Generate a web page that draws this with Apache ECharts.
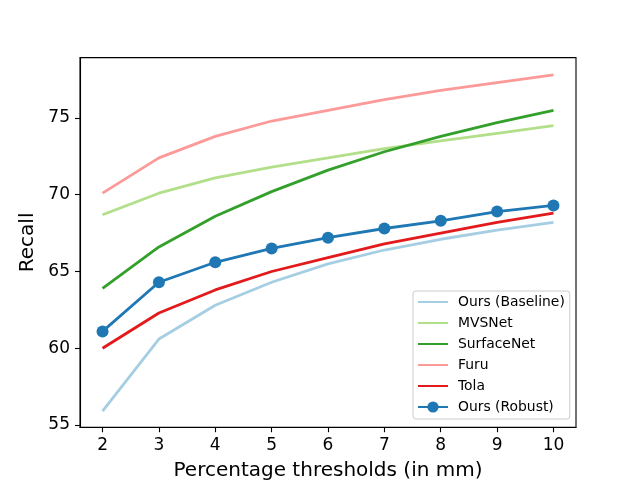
<!DOCTYPE html>
<html>
<head>
<meta charset="utf-8">
<script src="https://cdn.jsdelivr.net/npm/echarts@6/dist/echarts.min.js"></script>
<style>html,body{margin:0;padding:0;background:#fff;}#c{width:640px;height:480px;}</style>
</head>
<body>
<div id="c"></div>
<script>
var thresholds = [2, 3, 4, 5, 6, 7, 8, 9, 10];
var xTicks = [2, 3, 4, 5, 6, 7, 8, 9, 10];
var yTicks = [55, 60, 65, 70, 75];
var seriesNames = ['Ours (Baseline)', 'MVSNet', 'SurfaceNet', 'Furu', 'Tola', 'Ours (Robust)'];
var oursBaseline = [55.9, 60.6, 62.8, 64.3, 65.5, 66.4, 67.1, 67.7, 68.2];
var mvsnet       = [68.7, 70.1, 71.1, 71.8, 72.4, 73.0, 73.5, 74.0, 74.5];
var surfacenet   = [63.9, 66.6, 68.6, 70.2, 71.6, 72.8, 73.8, 74.7, 75.5];
var furu         = [70.1, 72.4, 73.8, 74.8, 75.5, 76.2, 76.8, 77.3, 77.8];
var tola         = [60.0, 62.3, 63.8, 65.0, 65.9, 66.8, 67.5, 68.2, 68.8];
var oursRobust   = [61.1, 64.3, 65.6, 66.5, 67.2, 67.8, 68.3, 68.9, 69.3];

var colors = ['#a6cee3', '#b2df8a', '#33a02c', '#fb9a99', '#e31a1c', '#1f78b4'];
var allValues = [oursBaseline, mvsnet, surfacenet, furu, tola, oursRobust];

function pairs(vals) { return thresholds.map(function (x, i) { return [x, vals[i]]; }); }

var FONT = 'DejaVu Sans';
var series = allValues.map(function (vals, i) {
  var robust = i === 5;
  return {
    name: seriesNames[i],
    type: 'line',
    data: pairs(vals),
    symbol: robust ? 'circle' : 'none',
    symbolSize: 12,
    showSymbol: robust,
    lineStyle: { color: colors[i], width: 2.8 },
    itemStyle: { color: colors[i] },
    emphasis: { disabled: true },
    z: 2 + i
  };
});

var legendData = seriesNames.map(function (n, i) {
  return i === 5 ? { name: n } : { name: n, itemStyle: { opacity: 0 } };
});

var chart = echarts.init(document.getElementById('c'), null, { renderer: 'canvas' });
chart.setOption({
  animation: false,
  backgroundColor: '#ffffff',
  textStyle: { fontFamily: FONT, color: '#000' },
  grid: { left: 80, right: 64, top: 57.6, bottom: 52.8, containLabel: false, outerBoundsMode: 'none',
          show: true, borderColor: '#000', borderWidth: 1.1, backgroundColor: 'transparent' },
  xAxis: {
    type: 'value', min: 1.6, max: 10.4,
    name: 'Percentage thresholds (in mm)', nameLocation: 'middle', nameGap: 34,
    nameTextStyle: { fontSize: 20, color: '#000', fontFamily: FONT },
    axisLine: { show: true, lineStyle: { color: '#000', width: 1.1 } },
    axisTick: { show: true, length: 5, lineStyle: { color: '#000', width: 1.1 }, customValues: xTicks },
    axisLabel: { fontSize: 17, color: '#000', fontFamily: FONT, margin: 10, customValues: xTicks },
    splitLine: { show: false }
  },
  yAxis: {
    type: 'value', min: 54.86, max: 78.93,
    name: 'Recall', nameLocation: 'middle', nameGap: 33, nameRotate: 90,
    nameTextStyle: { fontSize: 20, color: '#000', fontFamily: FONT },
    axisLine: { show: true, lineStyle: { color: '#000', width: 1.1 } },
    axisTick: { show: true, length: 5, lineStyle: { color: '#000', width: 1.1 }, customValues: yTicks },
    axisLabel: { fontSize: 17, color: '#000', fontFamily: FONT, margin: 10, customValues: yTicks },
    splitLine: { show: false }
  },
  legend: {
    data: legendData,
    orient: 'vertical',
    left: 413, top: 291,
    padding: [4, 5, 5, 4],
    itemWidth: 30, itemHeight: 14, itemGap: 7,
    backgroundColor: 'rgba(255,255,255,0.8)',
    borderColor: '#cccccc', borderWidth: 1, borderRadius: 3,
    textStyle: { fontSize: 13.9, color: '#000', fontFamily: FONT, padding: [0, 0, 0, 5] }
  },
  series: series
});
</script>
</body>
</html>
